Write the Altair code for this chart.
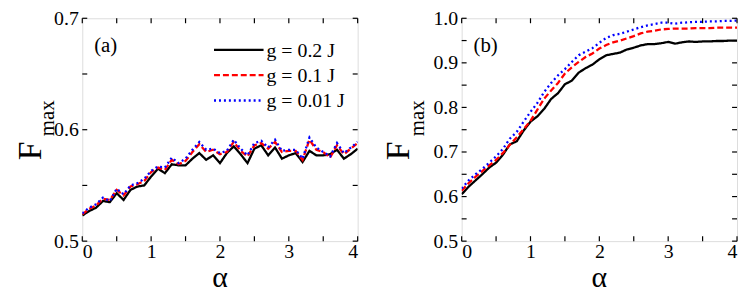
import altair as alt
import pandas as pd

FONT = "Liberation Serif"

alpha = [round(i * 0.1, 1) for i in range(41)]

series_labels = ["g = 0.2 J", "g = 0.1 J", "g = 0.01 J"]
series_colors = ["#000000", "#ff0000", "#0000ff"]
series_dashes = [[1, 0], [6, 3], [2, 3]]

# panel (a)
a_g02 = [0.523, 0.527, 0.530, 0.536, 0.535, 0.543, 0.537, 0.546, 0.549, 0.550,
         0.558, 0.565, 0.561, 0.569, 0.568, 0.568, 0.574, 0.579, 0.573, 0.577,
         0.570, 0.579, 0.585, 0.578, 0.570, 0.583, 0.586, 0.577, 0.584, 0.574,
         0.577, 0.579, 0.571, 0.581, 0.577, 0.577, 0.578, 0.582, 0.574, 0.578, 0.583]
a_g01 = [0.524, 0.529, 0.532, 0.538, 0.537, 0.546, 0.541, 0.549, 0.551, 0.554,
         0.562, 0.566, 0.564, 0.573, 0.569, 0.572, 0.580, 0.587, 0.580, 0.582,
         0.578, 0.580, 0.589, 0.581, 0.576, 0.586, 0.588, 0.583, 0.589, 0.580,
         0.581, 0.581, 0.573, 0.591, 0.582, 0.580, 0.575, 0.586, 0.578, 0.583, 0.588]
a_g001 = [0.525, 0.530, 0.533, 0.539, 0.536, 0.547, 0.542, 0.550, 0.552, 0.556,
          0.563, 0.567, 0.566, 0.575, 0.570, 0.574, 0.582, 0.589, 0.582, 0.583,
          0.579, 0.581, 0.591, 0.583, 0.577, 0.588, 0.590, 0.584, 0.591, 0.581,
          0.582, 0.582, 0.574, 0.593, 0.584, 0.580, 0.576, 0.588, 0.579, 0.584, 0.589]

# panel (b)
b_g02 = [0.605, 0.622, 0.636, 0.650, 0.665, 0.676, 0.694, 0.717, 0.724, 0.748,
         0.768, 0.780, 0.797, 0.819, 0.832, 0.852, 0.860, 0.878, 0.888, 0.896,
         0.908, 0.917, 0.920, 0.923, 0.930, 0.934, 0.939, 0.942, 0.942, 0.944,
         0.947, 0.943, 0.946, 0.948, 0.947, 0.948, 0.948, 0.949, 0.949, 0.950, 0.950]
b_g01 = [0.613, 0.630, 0.644, 0.657, 0.670, 0.682, 0.698, 0.716, 0.733, 0.751,
         0.770, 0.795, 0.820, 0.838, 0.855, 0.876, 0.890, 0.902, 0.913, 0.921,
         0.932, 0.940, 0.946, 0.950, 0.955, 0.960, 0.966, 0.970, 0.972, 0.975,
         0.976, 0.977, 0.977, 0.977, 0.978, 0.978, 0.978, 0.979, 0.979, 0.979, 0.979]
b_g001 = [0.618, 0.636, 0.650, 0.662, 0.676, 0.690, 0.707, 0.730, 0.745, 0.768,
          0.790, 0.810, 0.835, 0.855, 0.872, 0.886, 0.902, 0.917, 0.925, 0.933,
          0.945, 0.956, 0.962, 0.965, 0.970, 0.975, 0.980, 0.984, 0.987, 0.990,
          0.990, 0.988, 0.990, 0.991, 0.992, 0.992, 0.993, 0.993, 0.994, 0.994, 0.995]

x_ticks = [0, 0.5, 1, 1.5, 2, 2.5, 3, 3.5, 4]
x_labels = [0, 1, 2, 3, 4]
a_yticks = [0.5, 0.55, 0.6, 0.65, 0.7]
a_ylabels = [0.5, 0.6, 0.7]
b_yticks = [0.5, 0.55, 0.6, 0.65, 0.7, 0.75, 0.8, 0.85, 0.9, 0.95, 1.0]
b_ylabels = [0.5, 0.6, 0.7, 0.8, 0.9, 1.0]

W, H = 278, 225
TL = 5


def long_df(cols):
    rows = []
    for lab, vals in zip(series_labels, cols):
        for a, v in zip(alpha, vals):
            rows.append({"alpha": a, "F": v, "series": lab})
    return pd.DataFrame(rows)


def panel(df, ydom, yticks, ylabels, tag, f_x, max_x, legend):
    xs = alt.Scale(domain=[0, 4], nice=False)
    ys = alt.Scale(domain=ydom, nice=False, zero=False)
    xaxis = alt.Axis(values=x_labels, format="d", ticks=False, domain=False, grid=False,
                     labelFont=FONT, labelFontSize=20, labelPadding=1, labelColor="black",
                     title=None)
    yaxis = alt.Axis(values=ylabels, format=".1f", ticks=False, domain=False, grid=False,
                     labelFont=FONT, labelFontSize=20, labelPadding=4, labelColor="black",
                     title=None)
    lines = alt.Chart(df).mark_line(strokeWidth=2.3, clip=True).encode(
        x=alt.X("alpha:Q", scale=xs, axis=xaxis),
        y=alt.Y("F:Q", scale=ys, axis=yaxis),
        color=alt.Color("series:N", scale=alt.Scale(domain=series_labels, range=series_colors), legend=None),
        strokeDash=alt.StrokeDash("series:N", scale=alt.Scale(domain=series_labels, range=series_dashes), legend=None),
        order=alt.Order("alpha:Q"),
    )
    xt = pd.DataFrame({"t": x_ticks})
    yt = pd.DataFrame({"v": yticks})
    tick_style = dict(color="black", strokeWidth=1.2)
    bt = alt.Chart(xt).mark_rule(**tick_style).encode(
        x=alt.X("t:Q", scale=xs, axis=xaxis), y=alt.value(H), y2=alt.value(H - TL))
    tt = alt.Chart(xt).mark_rule(**tick_style).encode(
        x=alt.X("t:Q", scale=xs, axis=xaxis), y=alt.value(0), y2=alt.value(TL))
    lt = alt.Chart(yt).mark_rule(**tick_style).encode(
        y=alt.Y("v:Q", scale=ys, axis=yaxis), x=alt.value(0), x2=alt.value(TL))
    rt = alt.Chart(yt).mark_rule(**tick_style).encode(
        y=alt.Y("v:Q", scale=ys, axis=yaxis), x=alt.value(W), x2=alt.value(W - TL))

    one = pd.DataFrame({"k": [0]})
    tag_t = alt.Chart(one).mark_text(text=tag, font=FONT, fontSize=21, align="left",
                                     baseline="middle", color="black").encode(
        x=alt.value(12), y=alt.value(28))
    xtitle = alt.Chart(one).mark_text(text="α", font=FONT, fontSize=30, align="center",
                                      baseline="alphabetic", color="black").encode(
        x=alt.value(W / 2), y=alt.value(H + 46))
    ftitle = alt.Chart(one).mark_text(text="F", font=FONT, fontSize=34, align="center",
                                      baseline="alphabetic", angle=270, color="black").encode(
        x=alt.value(f_x), y=alt.value(134))
    mtitle = alt.Chart(one).mark_text(text="max", font=FONT, fontSize=21, align="left",
                                      baseline="alphabetic", angle=270, color="black").encode(
        x=alt.value(max_x), y=alt.value(119))
    layers = [lines, bt, tt, lt, rt, tag_t, xtitle, ftitle, mtitle]
    if legend:
        for i, (lab, col, dash) in enumerate(zip(series_labels, series_colors, series_dashes)):
            ld = pd.DataFrame({"label": [lab]})
            yy = 32 + i * 25.5
            layers.append(alt.Chart(ld).mark_rule(color=col, strokeWidth=2.3, strokeDash=dash).encode(
                x=alt.value(133), x2=alt.value(183), y=alt.value(yy)))
            layers.append(alt.Chart(ld).mark_text(font=FONT, fontSize=20, align="left",
                                                  baseline="middle", color="black").encode(
                x=alt.value(186), y=alt.value(yy + 1), text="label:N"))
    return alt.layer(*layers).properties(width=W, height=H)


pa = panel(long_df([a_g02, a_g01, a_g001]), [0.5, 0.7], a_yticks, a_ylabels, "(a)", -42, -29, True)
pb = panel(long_df([b_g02, b_g01, b_g001]), [0.5, 1.0], b_yticks, b_ylabels, "(b)", -53, -38, False)

chart = alt.hconcat(pa, pb, spacing=22).properties(
    padding={"left": 5, "top": -2, "right": 0, "bottom": 0}
).configure_view(stroke="black", strokeWidth=1.5).configure(background="white")

chart.save("out.html", embed_options={"renderer": "svg", "actions": False})
